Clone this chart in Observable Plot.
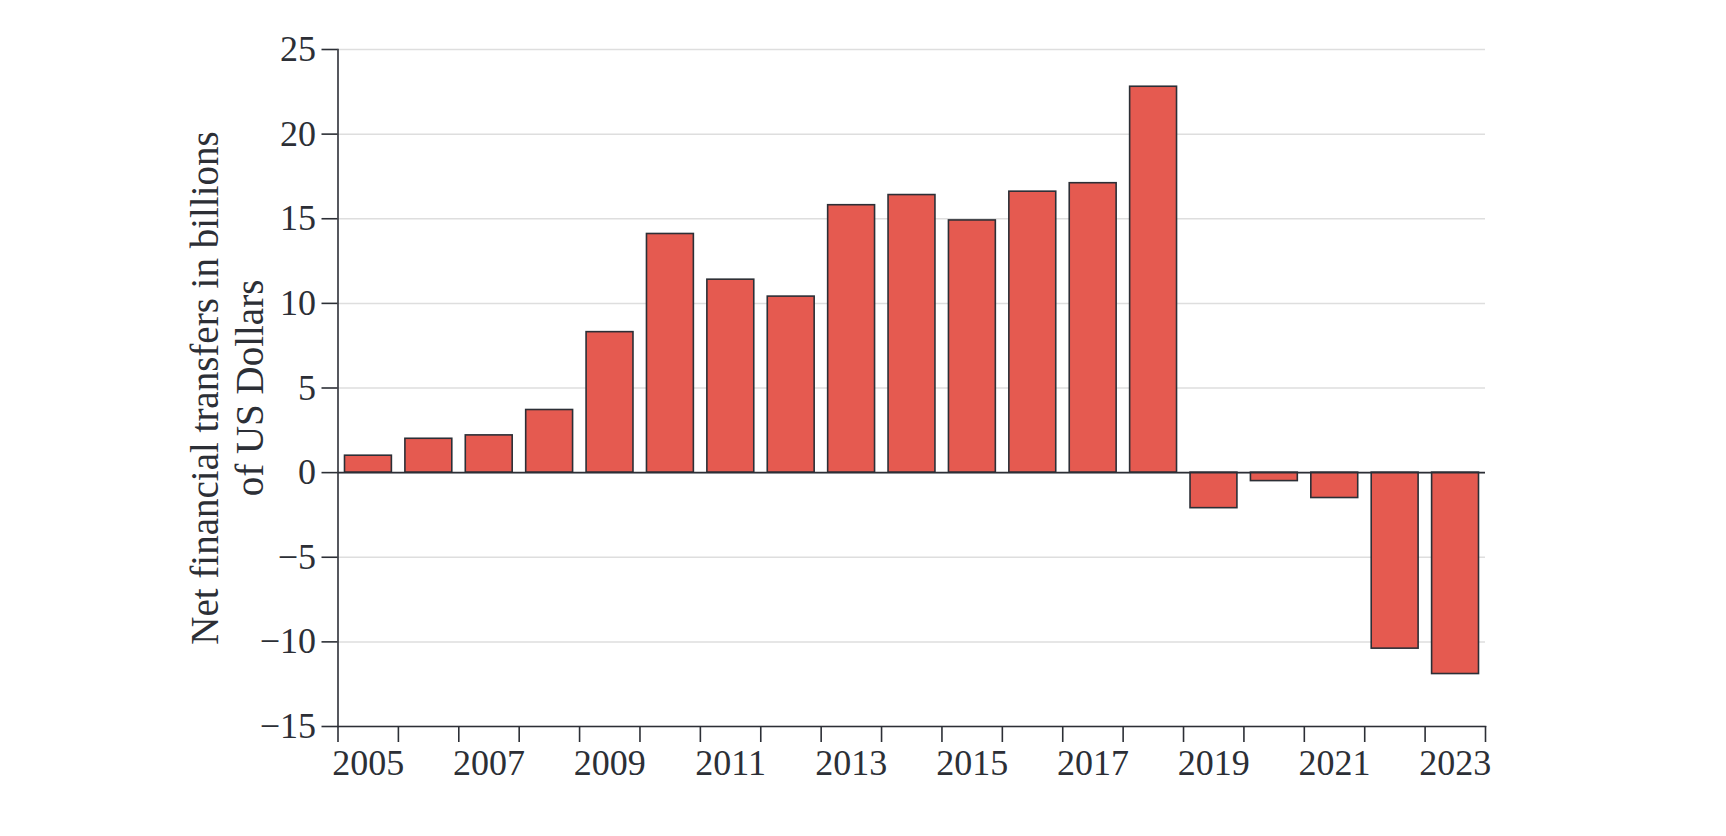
<!DOCTYPE html>
<html>
<head>
<meta charset="utf-8">
<script src="https://cdn.jsdelivr.net/npm/d3@7"></script>
<script src="https://cdn.jsdelivr.net/npm/@observablehq/plot@0.6"></script>
<style>
  html, body { margin: 0; padding: 0; background: #fff; }
</style>
</head>
<body>
<div id="chart"></div>
<script>
const years = [2005, 2006, 2007, 2008, 2009, 2010, 2011, 2012, 2013, 2014, 2015, 2016, 2017, 2018, 2019, 2020, 2021, 2022, 2023];
const values = [1.0, 2.0, 2.2, 3.7, 8.3, 14.1, 11.4, 10.4, 15.8, 16.4, 14.9, 16.6, 17.1, 22.8, -2.1, -0.5, -1.5, -10.4, -11.9];
const yTicks = [-15, -10, -5, 0, 5, 10, 15, 20, 25];
const xTickEdges = [2005, 2006, 2007, 2008, 2009, 2010, 2011, 2012, 2013, 2014, 2015, 2016, 2017, 2018, 2019, 2020, 2021, 2022, 2023, 2024];
const xLabelYears = [2005, 2007, 2009, 2011, 2013, 2015, 2017, 2019, 2021, 2023];
const yLabel = "Net financial transfers in billions\nof US Dollars";

const data = years.map((year, i) => ({year, next: year + 1, value: values[i]}));

const ink = "#2c2f36";

const chart = Plot.plot({
  width: 1726,
  height: 836,
  marginLeft: 337.5,
  marginRight: 241,
  marginTop: 49,
  marginBottom: 110,
  style: {fontFamily: "'Liberation Serif', serif", fontSize: "36px", color: ink, background: "#fff"},
  x: {domain: [2005, 2024], axis: null},
  y: {domain: [-15, 25], axis: null},
  marks: [
    Plot.gridY(yTicks, {stroke: "#dedede", strokeOpacity: 1, strokeWidth: 1.5}),
    Plot.rectY(data, {x1: "year", x2: "next", y1: 0, y2: "value", fill: "#e55a50", stroke: ink, strokeWidth: 1.6, insetLeft: 7, insetRight: 6.5}),
    Plot.ruleY([0], {stroke: ink, strokeWidth: 1.6}),
    Plot.frame({anchor: "left", stroke: ink, strokeWidth: 1.6}),
    Plot.frame({anchor: "bottom", stroke: ink, strokeWidth: 1.6}),
    Plot.axisY({ticks: yTicks, tickSize: 16, tickPadding: 6, strokeWidth: 1.6, stroke: ink, label: null, fontSize: 36}),
    Plot.axisX({ticks: xTickEdges, tickSize: 16, strokeWidth: 1.6, stroke: ink, tickFormat: () => "", label: null}),
    Plot.axisX({ticks: xLabelYears.map(y => y + 0.5), tickSize: 0, tickPadding: 23, tickFormat: d => String(Math.round(d - 0.5)), label: null, fontSize: 36}),
    Plot.text([yLabel], {frameAnchor: "left", rotate: -90, dx: -112, fontSize: 39, lineHeight: 1.15, textAnchor: "middle", lineAnchor: "middle", fill: ink})
  ]
});
document.getElementById("chart").appendChild(chart);
</script>
</body>
</html>
